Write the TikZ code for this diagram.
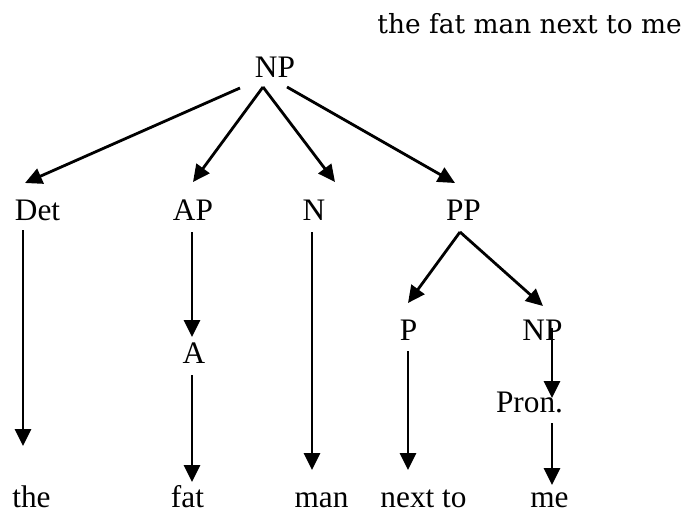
\documentclass[tikz,border=0pt]{standalone}
\usepackage{fontspec}
\setmainfont{Liberation Serif}
\newfontfamily\phrasefont{DejaVu Serif}
\usetikzlibrary{arrows.meta,calc}
\tikzset{
  cat/.style={anchor=base,inner sep=0pt,font=\fontsize{15.65}{18}\selectfont},
  word/.style={cat},
  arr/.style={-{Triangle[length=8.5pt,width=8pt]},line width=1.4pt}
}
\begin{document}
\begin{tikzpicture}[x=0.5pt,y=-0.5pt]
 \useasboundingbox (0,0) rectangle (686,515);
 \node[anchor=base west,inner sep=0pt,font=\phrasefont\fontsize{13.2}{16}\selectfont]
   (phrase) at (377,33) {the fat man next to me};
 % categories
 \node[cat] (np)   at (275,77)    {NP};
 \node[cat] (det)  at (37.5,220)  {Det};
 \node[cat] (ap)   at (193,220)   {AP};
 \node[cat] (n)    at (314,220)   {N};
 \node[cat] (pp)   at (463.5,220) {PP};
 \node[cat] (a)    at (194,363)   {A};
 \node[cat] (p)    at (408.5,340) {P};
 \node[cat] (npb)  at (542.5,340) {NP};
 \node[cat] (pron) at (529.5,412) {Pron.};
 % words
 \node[word] (the)    at (31.5,507)  {the};
 \node[word] (fat)    at (187.5,507) {fat};
 \node[word] (man)    at (321.5,507) {man};
 \node[word] (nextto) at (423.5,507) {next to};
 \node[word] (me)     at (549.5,507) {me};
 % branches of NP and PP
 \draw[arr] ($(np.base)+(-35,11)$) -- ($(det.base)+(-12.5,-37)$);
 \draw[arr] ($(np.base)+(-12,10)$) -- ($(ap.base)+(0,-38)$);
 \draw[arr] ($(np.base)+(-12,10)$) -- ($(n.base)+(21,-38)$);
 \draw[arr] ($(np.base)+(12,10)$)  -- ($(pp.base)+(-8.5,-37)$);
 \draw[arr] ($(pp.base)+(-3.5,12)$) -- ($(p.base)+(-0.5,-37)$);
 \draw[arr] ($(pp.base)+(-3.5,12)$) -- ($(npb.base)+(0.5,-34)$);
 % down to the words
 \draw[arr] ($(det.base)+(-14.5,10)$) -- ($(the.base)+(-8.5,-61)$);
 \draw[arr] ($(ap.base)+(-1,12)$)     -- ($(a.base)+(-2,-26)$);
 \draw[arr] ($(a.base)+(-2,12)$)      -- ($(fat.base)+(4.5,-25)$);
 \draw[arr] ($(n.base)+(-2,12)$)      -- ($(man.base)+(-9.5,-37)$);
 \draw[arr] ($(p.base)+(-0.5,11)$)    -- ($(nextto.base)+(-15.5,-37)$);
 \draw[arr] ($(npb.base)+(9.5,-12)$)  -- ($(pron.base)+(22.5,-14)$);
 \draw[arr] ($(pron.base)+(22.5,11)$) -- ($(me.base)+(2.5,-22)$);
\end{tikzpicture}
\end{document}
